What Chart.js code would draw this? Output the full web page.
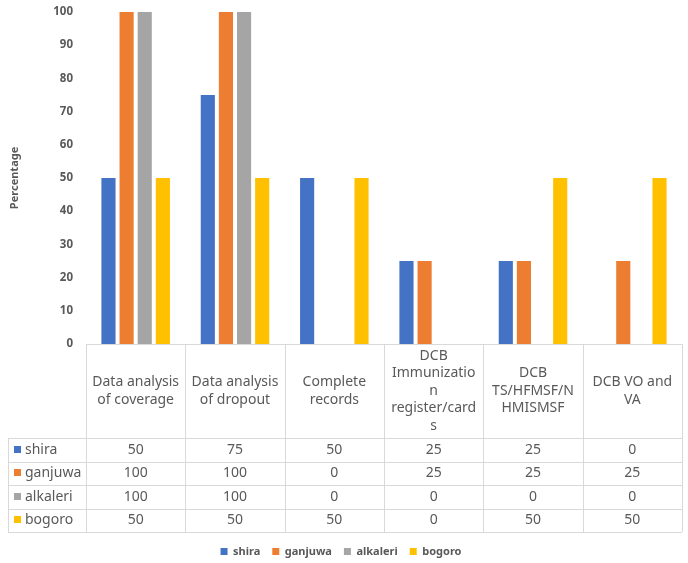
<!DOCTYPE html>
<html>
<head>
<meta charset="utf-8">
<script src="https://cdn.jsdelivr.net/npm/chart.js@4.4.0/dist/chart.umd.min.js"></script>
<style>
  html, body { margin: 0; padding: 0; background: #fff; }
  #wrap { width: 688px; height: 563px; }
</style>
</head>
<body>
<div id="wrap"><canvas id="chart" width="688" height="563"></canvas></div>
<script>
// categories (one entry per table column, split the way the header wraps)
const categories = [
    ['Data analysis', 'of coverage'],
    ['Data analysis', 'of dropout'],
    ['Complete', 'records'],
    ['DCB', 'Immunizatio', 'n', 'register/card', 's'],
    ['DCB', 'TS/HFMSF/N', 'HMISMSF'],
    ['DCB VO and', 'VA']
];

const seriesNames = ['shira', 'ganjuwa', 'alkaleri', 'bogoro'];
const shira    = [50, 75, 50, 25, 25, 0];
const ganjuwa  = [100, 100, 0, 25, 25, 25];
const alkaleri = [100, 100, 0, 0, 0, 0];
const bogoro   = [50, 50, 50, 0, 50, 50];

const yMin = 0;
const yMax = 100;
const yStep = 10;

const colors = ['#4472C4', '#ED7D31', '#A5A5A5', '#FFC000'];
const textColor = '#595959';
const lineColor = '#D9D9D9';
const fontFamily = '"Noto Sans", "Open Sans", sans-serif';

// Table sizes
const headerHeight = 94;
const rowHeight = 23.5;
const tableLeft = 8;
const legendGap = 2;

// Draws the data table under the plot, using the x scale for columns
const dataTablePlugin = {
    id: 'dataTable',
    afterDraw(chart) {
        const ctx = chart.ctx;
        const xScale = chart.scales.x;
        const area = chart.chartArea;
        const n = chart.data.labels.length;
        const colW = (area.right - area.left) / n;
        const top = Math.round(area.bottom);
        const headBottom = top + headerHeight;
        const datasets = chart.data.datasets;
        const tableBottom = headBottom + rowHeight * datasets.length;

        ctx.save();
        ctx.strokeStyle = lineColor;
        ctx.lineWidth = 1;

        function hLine(x1, x2, y) {
            const yy = Math.round(y) + 0.5;
            ctx.beginPath();
            ctx.moveTo(x1, yy);
            ctx.lineTo(x2, yy);
            ctx.stroke();
        }
        function vLine(x, y1, y2) {
            const xx = Math.round(x) + 0.5;
            ctx.beginPath();
            ctx.moveTo(xx, y1);
            ctx.lineTo(xx, y2);
            ctx.stroke();
        }

        // Horizontal lines
        hLine(area.left, area.right, top);
        hLine(tableLeft, area.right, headBottom);
        for (let r = 1; r <= datasets.length; r++) {
            hLine(tableLeft, area.right, headBottom + rowHeight * r);
        }

        // Vertical lines
        vLine(tableLeft, headBottom, tableBottom);
        for (let i = 0; i <= n; i++) {
            vLine(area.left + colW * i, top, tableBottom);
        }

        // Header text
        ctx.fillStyle = textColor;
        ctx.font = '14px ' + fontFamily;
        ctx.textAlign = 'center';
        ctx.textBaseline = 'middle';
        const lineH = 17.5;
        const headMid = top + headerHeight / 2;
        chart.data.labels.forEach((lines, i) => {
            const cx = xScale.getPixelForValue(i);
            const startY = headMid - (lines.length - 1) * lineH / 2;
            lines.forEach((line, j) => {
                ctx.fillText(line, cx, startY + j * lineH);
            });
        });

        // Data rows
        datasets.forEach((ds, r) => {
            const cy = headBottom + rowHeight * r + rowHeight / 2;
            ctx.fillStyle = ds.backgroundColor;
            ctx.fillRect(tableLeft + 6, Math.round(cy) - 4, 7, 7);
            ctx.fillStyle = textColor;
            ctx.textAlign = 'left';
            ctx.fillText(ds.label, tableLeft + 17, cy);
            ctx.textAlign = 'center';
            ds.data.forEach((v, i) => {
                ctx.fillText(String(v), xScale.getPixelForValue(i), cy);
            });
        });

        ctx.restore();
    }
};

const allSeries = [shira, ganjuwa, alkaleri, bogoro];

const ctx = document.getElementById('chart');
new Chart(ctx, {
    type: 'bar',
    data: {
        labels: categories,
        datasets: seriesNames.map((name, i) => ({
            label: name,
            data: allSeries[i],
            backgroundColor: colors[i],
            categoryPercentage: 0.73,
            barPercentage: 0.78
        }))
    },
    options: {
        responsive: false,
        animation: false,
        layout: {
            padding: { top: -4, right: 6, left: 0, bottom: -4 }
        },
        plugins: {
            legend: {
                position: 'bottom',
                labels: {
                    boxWidth: 7,
                    boxHeight: 7,
                    padding: 12,
                    color: textColor,
                    font: { family: fontFamily, size: 11, weight: 'bold' }
                }
            },
            tooltip: { enabled: false }
        },
        scales: {
            x: {
                grid: { display: false },
                border: { display: false },
                ticks: { display: false },
                afterFit: function(scale) {
                    scale.height = headerHeight + rowHeight * seriesNames.length + legendGap;
                }
            },
            y: {
                min: yMin,
                max: yMax,
                grid: { display: false },
                border: { display: false },
                ticks: {
                    stepSize: yStep,
                    padding: 5,
                    color: textColor,
                    font: { family: fontFamily, size: 11.5, weight: 'bold' }
                },
                title: {
                    display: true,
                    text: 'Percentage',
                    color: textColor,
                    padding: { top: 8, bottom: 0 },
                    font: { family: fontFamily, size: 11, weight: 'bold' }
                },
                afterFit: function(scale) {
                    scale.width = 86;
                }
            }
        }
    },
    plugins: [dataTablePlugin]
});
</script>
</body>
</html>
